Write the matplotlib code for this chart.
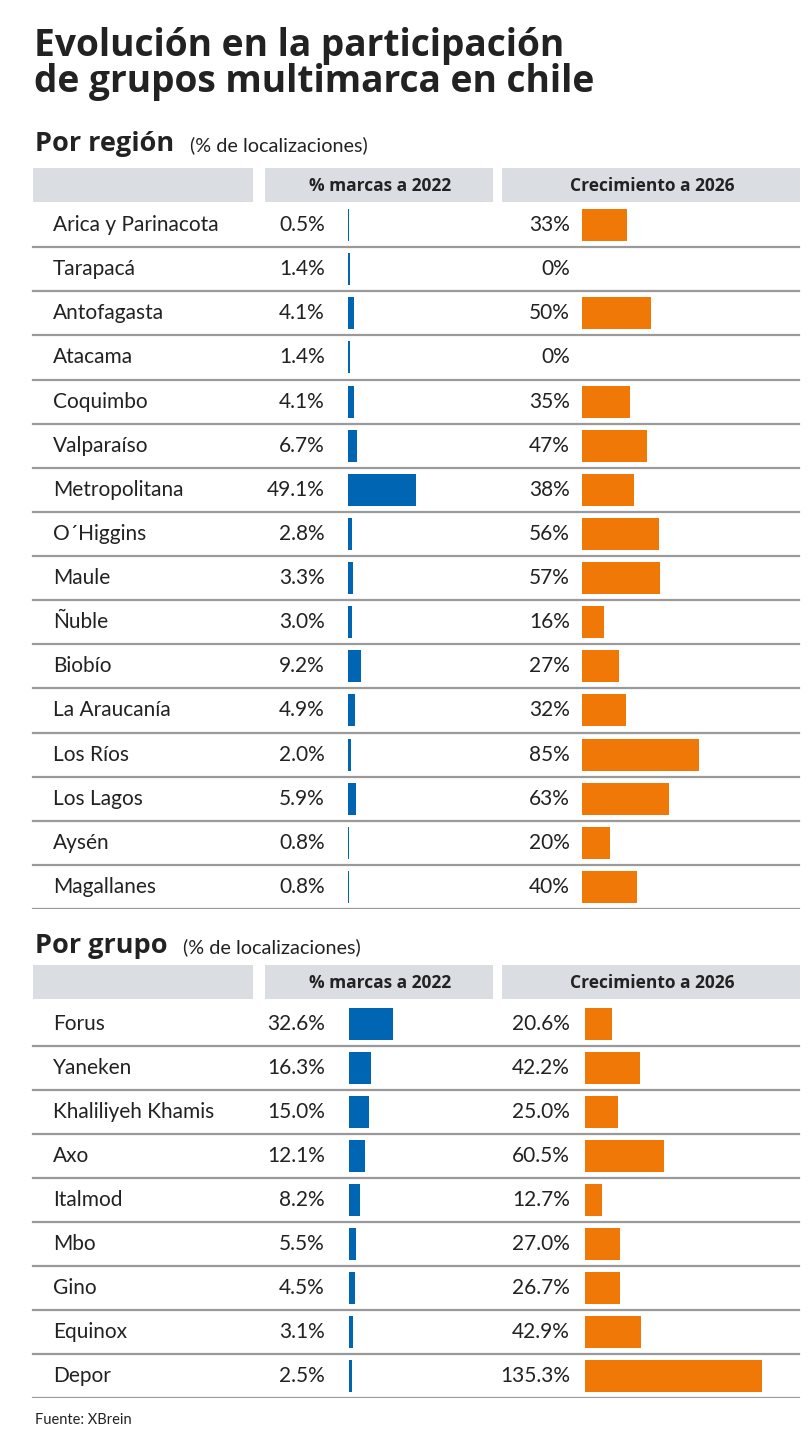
import matplotlib
matplotlib.use("Agg")
import matplotlib.pyplot as plt
from matplotlib.patches import Rectangle

# Data
regiones = ["Arica y Parinacota", "Tarapacá", "Antofagasta", "Atacama", "Coquimbo",
            "Valparaíso", "Metropolitana", "O´Higgins", "Maule", "Ñuble", "Biobío",
            "La Araucanía", "Los Ríos", "Los Lagos", "Aysén", "Magallanes"]
region_marcas = [0.5, 1.4, 4.1, 1.4, 4.1, 6.7, 49.1, 2.8, 3.3, 3.0, 9.2, 4.9, 2.0, 5.9, 0.8, 0.8]
region_crec = [33, 0, 50, 0, 35, 47, 38, 56, 57, 16, 27, 32, 85, 63, 20, 40]

grupos = ["Forus", "Yaneken", "Khaliliyeh Khamis", "Axo", "Italmod", "Mbo", "Gino",
          "Equinox", "Depor"]
grupo_marcas = [32.6, 16.3, 15.0, 12.1, 8.2, 5.5, 4.5, 3.1, 2.5]
grupo_crec = [20.6, 42.2, 25.0, 60.5, 12.7, 27.0, 26.7, 42.9, 135.3]

BLUE = "#0066b3"
ORANGE = "#f07806"
GRAY_BOX = "#dadee3"
LINE = "#9a9a9a"
TEXT = "#222222"

BOLD = ["Open Sans", "DejaVu Sans"]
BODY = ["Lato", "DejaVu Sans"]

W, H = 810, 1440
fig = plt.figure(figsize=(W / 100, H / 100), dpi=100)
fig.patch.set_facecolor("white")


def px_axes(x0, y0, x1, y1):
    ax = fig.add_axes([x0 / W, 1 - y1 / H, (x1 - x0) / W, (y1 - y0) / H])
    ax.axis("off")
    return ax


# background in pixel coordinates
bg = px_axes(0, 0, W, H)
bg.set_xlim(0, W)
bg.set_ylim(H, 0)

bg.text(34, 92, "Evolución en la participación\nde grupos multimarca en chile",
        ha="left", va="baseline", fontsize=26.7, fontweight="bold", family=BOLD,
        color=TEXT, linespacing=0.92)


def section(title, tw, y_title, y_head, names, marcas, crec, y_top, row_h,
            blue_x, blue_scale, orange_x, orange_scale, fmt):
    bg.text(35, y_title, title, ha="left", va="baseline", fontsize=19.5,
            fontweight="bold", family=BOLD, color=TEXT)
    bg.text(35 + tw, y_title, "(% de localizaciones)", ha="left",
            va="baseline", fontsize=14.3, family=BODY, color=TEXT)

    # header boxes
    for x0, x1, lab in [(33, 253, ""), (265, 493, "% marcas a 2022"),
                        (502, 800, "Crecimiento a 2026")]:
        bg.add_patch(Rectangle((x0, y_head), x1 - x0, 34, facecolor=GRAY_BOX,
                               edgecolor="none"))
        if lab:
            bg.text((x0 + x1) / 2 + 1, y_head + 18, lab, ha="center", va="center",
                    fontsize=12.5, fontweight="bold", family=BOLD, color=TEXT)

    n = len(names)
    y_bot = y_top + n * row_h
    tab = px_axes(0, y_top, W, y_bot)
    tab.set_xlim(0, W)
    tab.set_ylim(n - 0.5, -0.5)
    for i, name in enumerate(names):
        tab.text(53, i, name, ha="left", va="center", fontsize=15,
                 family=BODY, color=TEXT)
        tab.text(325, i, fmt[0].format(marcas[i]), ha="right", va="center",
                 fontsize=15, family=BODY, color=TEXT)
        tab.text(570, i, fmt[1].format(crec[i]), ha="right", va="center",
                 fontsize=15, family=BODY, color=TEXT)
        tab.axhline(i + 0.5, xmin=33 / W, xmax=799 / W, color=LINE, lw=1.6)

    bar_h = 32 / row_h
    axb = px_axes(blue_x, y_top, blue_x + 120, y_bot)
    axb.barh(range(n), marcas, height=bar_h, color=BLUE)
    axb.set_xlim(0, 120 / blue_scale)
    axb.set_ylim(n - 0.5, -0.5)

    axo = px_axes(orange_x, y_top, orange_x + 215, y_bot)
    axo.barh(range(n), crec, height=bar_h, color=ORANGE)
    axo.set_xlim(0, 215 / orange_scale)
    axo.set_ylim(n - 0.5, -0.5)


section("Por región", 155, 151, 168, regiones, region_marcas, region_crec,
        203, 44.13, 348, 1.385, 582, 1.375, ("{:.1f}%", "{:.0f}%"))
section("Por grupo", 148, 953, 965, grupos, grupo_marcas, grupo_crec,
        1002, 44.0, 349, 1.35, 585, 1.31, ("{:.1f}%", "{:.1f}%"))

bg.text(35, 1420, "Fuente: XBrein", ha="left", va="center", fontsize=10.5,
        family=BODY, color=TEXT)

fig.savefig("out.png", dpi=100, facecolor="white")
